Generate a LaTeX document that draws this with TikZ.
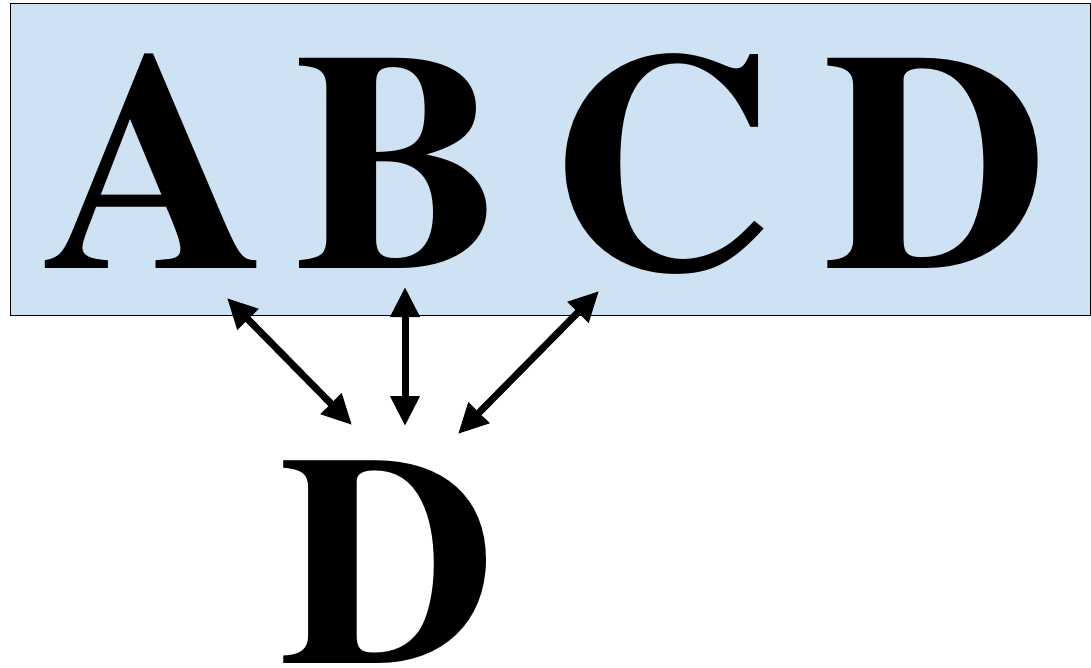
\documentclass[tikz,border=0pt]{standalone}
\usepackage{fontspec}
\newfontfamily\timesbold{texgyretermes-bold.otf}
\usetikzlibrary{arrows.meta}
\definecolor{boxblue}{HTML}{CFE2F3}
\begin{document}
\begin{tikzpicture}[x=1pt,y=-1pt,
  bigletter/.style={inner sep=0pt, anchor=base, font=\fontsize{311}{312}\timesbold},
  link/.style={line width=7pt, {Triangle[length=30pt,width=28pt]}-{Triangle[length=30pt,width=28pt]}}]
\useasboundingbox (0,0) rectangle (1091,667);
\node[draw=black, line width=1.5pt, fill=boxblue, inner sep=0pt, minimum width=1080pt, minimum height=312pt, anchor=north west] (box) at (9.5,2.5) {};
\node[bigletter] (A) at (155,268) {A};
\node[bigletter] (B) at (398,268) {B};
\node[bigletter] (C) at (663,268) {C};
\node[bigletter] (D) at (936,268) {D};
\node[bigletter, font=\fontsize{300}{300}\timesbold] (E) at (388,663) {D};
\coordinate (a1) at (227,298);
\coordinate (e1) at (352,425);
\coordinate (b1) at (405,287);
\coordinate (e2) at (405,426);
\coordinate (c1) at (599,291);
\coordinate (e3) at (458,434);
\draw[link] (a1) -- (e1);
\draw[link] (b1) -- (e2);
\draw[link] (c1) -- (e3);
\end{tikzpicture}
\end{document}
